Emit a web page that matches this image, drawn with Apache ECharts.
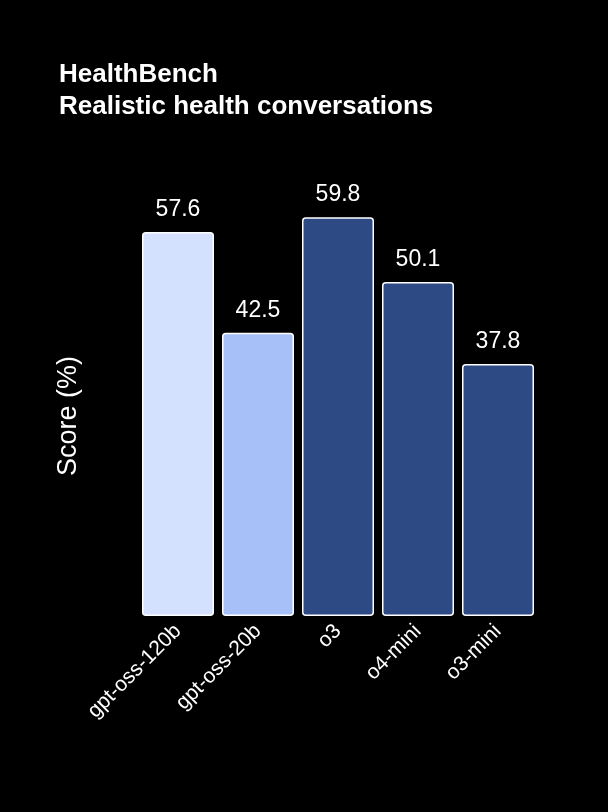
<!DOCTYPE html>
<html>
<head>
<meta charset="utf-8">
<script src="https://cdn.jsdelivr.net/npm/echarts@6/dist/echarts.min.js"></script>
<style>html,body{margin:0;background:#000}#chart{width:608px;height:812px}</style>
</head>
<body>
<div id="chart"></div>
<script>
const models = ['gpt-oss-120b', 'gpt-oss-20b', 'o3', 'o4-mini', 'o3-mini'];
const scores = [57.6, 42.5, 59.8, 50.1, 37.8];
const colors = ['#d3e1ff', '#a8c0f8', '#2e4a84', '#2e4a84', '#2e4a84'];

const chart = echarts.init(document.getElementById('chart'));
chart.setOption({
  backgroundColor: '#000',
  animation: false,
  title: {
    text: 'HealthBench\nRealistic health conversations',
    left: 54, top: 54,
    textStyle: { color: '#fff', fontSize: 26, fontWeight: 'bold', lineHeight: 32, fontFamily: 'Liberation Sans' }
  },
  grid: { left: 138, right: 70, top: 216, bottom: 196 },
  xAxis: {
    type: 'category',
    data: models,
    axisLine: { show: false },
    axisTick: { show: false },
    axisLabel: { color: '#fff', fontSize: 21, rotate: 45, margin: 12, fontFamily: 'Liberation Sans' }
  },
  yAxis: {
    type: 'value', min: 0, max: 60,
    name: 'Score (%)', nameLocation: 'middle', nameGap: 56, nameRotate: 90,
    nameTextStyle: { color: '#fff', fontSize: 27, fontFamily: 'Liberation Sans' },
    axisLine: { show: false }, axisTick: { show: false },
    axisLabel: { show: false }, splitLine: { show: false }
  },
  series: [{
    type: 'bar',
    barCategoryGap: '10%',
    data: scores.map((v, i) => ({ value: v, itemStyle: { color: colors[i] } })),
    itemStyle: { borderColor: '#fff', borderWidth: 1.5, borderRadius: 3 },
    label: { show: true, position: 'top', distance: 11, color: '#fff', fontSize: 23, fontFamily: 'Liberation Sans' }
  }]
});
</script>
</body>
</html>
